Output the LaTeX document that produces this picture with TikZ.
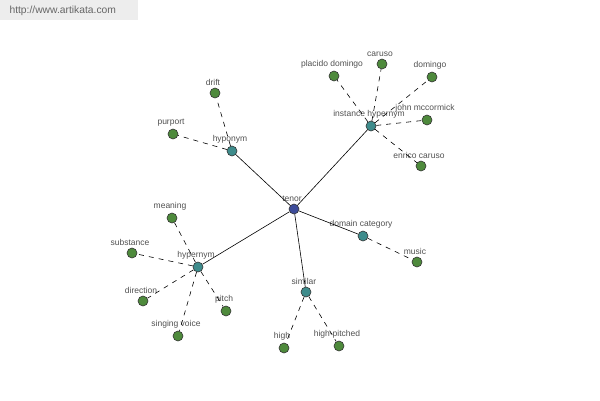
\documentclass[tikz,border=0pt]{standalone}
\usepackage{fontspec}
\setmainfont{Liberation Sans}
\definecolor{leaf}{HTML}{4E8A3C}
\definecolor{hub}{HTML}{3E8C8C}
\definecolor{root}{HTML}{3D4C9A}
\definecolor{lbl}{HTML}{505050}
\begin{document}
\begin{tikzpicture}[x=1pt,y=-1pt,
  vtx/.style={circle,draw=black!80,line width=0.6pt,minimum size=10pt,inner sep=0pt},
  leafv/.style={vtx,fill=leaf},
  hubv/.style={vtx,fill=hub},
  rootv/.style={vtx,fill=root},
  every label/.style={font=\fontsize{8.5}{9}\selectfont,text=lbl,inner sep=1pt,xshift=-2pt},
  solidedge/.style={draw=black,line width=0.6pt},
  dashedge/.style={draw=black,line width=0.6pt,dash pattern=on 5pt off 5pt}]
\useasboundingbox (0,0) rectangle (600,400);
\fill[black!7] (0,0) rectangle (138,20);
\node[font=\fontsize{10.3}{11}\selectfont,text=black!60,anchor=west] (url) at (6,11) {http://www.artikata.com};
% nodes
\node[rootv,label={[label distance=1pt]above:tenor}] (tenor) at (294,209) {};
\node[hubv,label={[label distance=1pt]above:hyponym}] (hypo) at (232,151) {};
\node[leafv,label={[label distance=1pt]above:drift}] (drift) at (215,93) {};
\node[leafv,label={[label distance=1pt]above:purport}] (purport) at (173,134) {};
\node[hubv,label={[label distance=1pt]above:instance hypernym}] (inst) at (371,126) {};
\node[leafv,label={[label distance=1pt]above:placido domingo}] (placido) at (334,76) {};
\node[leafv,label={[label distance=1pt]above:caruso}] (caruso) at (382,64) {};
\node[leafv,label={[label distance=1pt]above:domingo}] (domingo) at (432,77) {};
\node[leafv,label={[label distance=1pt]above:john mccormick}] (john) at (427,120) {};
\node[leafv,label={[label distance=1pt]above:enrico caruso}] (enrico) at (421,166) {};
\node[hubv,label={[label distance=1pt]above:domain category}] (domain) at (363,236) {};
\node[leafv,label={[label distance=1pt]above:music}] (music) at (417,262) {};
\node[hubv,label={[label distance=1pt]above:similar}] (similar) at (306,292) {};
\node[leafv,label={[label distance=1pt]above:high}] (high) at (284,348) {};
\node[leafv,label={[label distance=1pt]above:high-pitched}] (highp) at (339,346) {};
\node[hubv,label={[label distance=1pt]above:hypernym}] (hyper) at (198,267) {};
\node[leafv,label={[label distance=1pt]above:meaning}] (meaning) at (172,218) {};
\node[leafv,label={[label distance=1pt]above:substance}] (substance) at (132,253) {};
\node[leafv,label={[label distance=1pt]above:direction}] (direction) at (143,301) {};
\node[leafv,label={[label distance=1pt]above:pitch}] (pitch) at (226,311) {};
\node[leafv,label={[label distance=1pt]above:singing voice}] (singing) at (178,336) {};
% edges
\begin{scope}[on background layer/.style={}]
\foreach \h in {hypo,inst,domain,similar,hyper}
  \draw[solidedge] (tenor) -- (\h);
\foreach \h/\l in {hypo/drift,hypo/purport,inst/placido,inst/caruso,inst/domingo,inst/john,inst/enrico,domain/music,similar/high,similar/highp,hyper/meaning,hyper/substance,hyper/direction,hyper/pitch,hyper/singing}
  \draw[dashedge] (\h) -- (\l);
\end{scope}
\end{tikzpicture}
\end{document}
